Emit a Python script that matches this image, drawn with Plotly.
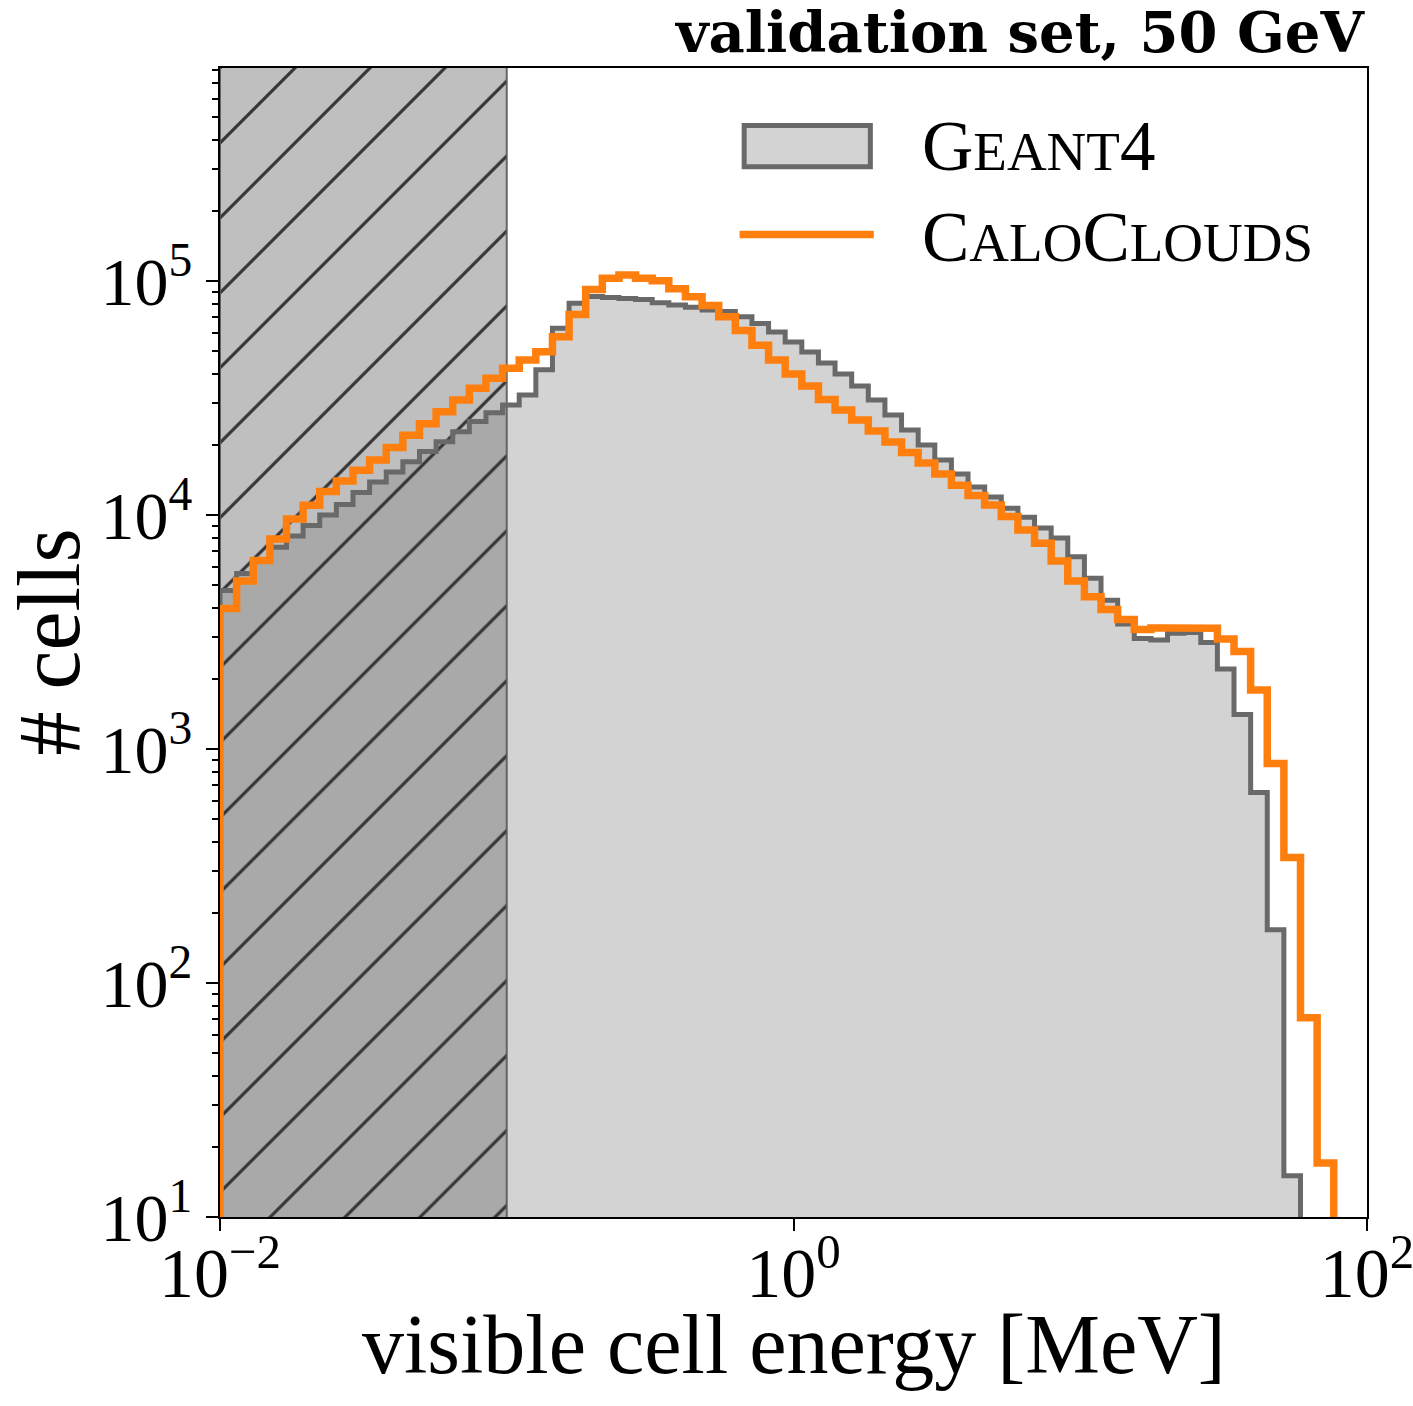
import numpy as np
import plotly.graph_objects as go

# ---------------- data ----------------
# 69 logarithmic bins between 1e-2 and 1e2 MeV
BIN_EXP_MIN, BIN_EXP_MAX, N_EDGES = -2, 2, 70
edges = np.logspace(BIN_EXP_MIN, BIN_EXP_MAX, N_EDGES)

geant4_counts = [4750, 5620, 6360, 7270, 8130, 9020, 10000, 11090, 12480, 13840,
                 15270, 16900, 18660, 20570, 22700, 25060, 27370, 29510, 32580, 41690,
                 62800, 80300, 85900, 85000, 84150, 83340, 80760, 78960, 77200, 75200,
                 73960, 70370, 65800, 60530, 54840, 49750, 44640, 40060, 35580, 30990,
                 26740, 23070, 19910, 17180, 14970, 13180, 11940, 10680, 9780, 8800,
                 7970, 6635, 5360, 4320, 3420, 2966, 2923, 3120, 3148, 2852,
                 2198, 1404, 652, 169, 15, 0, 0, 0, 0]

caloclouds_counts = [3985, 5224, 6395, 7890, 9610, 10990, 12590, 13970, 15520, 17180,
                     19420, 21920, 24550, 27620, 30990, 34780, 38370, 42360, 45940, 49880,
                     57810, 71910, 92000, 102700, 106100, 102700, 100300, 92650, 85700, 78540,
                     70370, 61450, 53110, 45940, 40060, 35580, 31180, 28110, 25470, 22850,
                     20510, 18490, 16680, 14970, 13400, 12110, 11030, 9840, 8630, 7570,
                     6360, 5224, 4475, 3945, 3575, 3243, 3290, 3290, 3290, 3280,
                     2952, 2610, 1787, 867, 344, 71, 17, 0, 0]

# masked (hatched) energy region in MeV
mask_region = [1e-2, 1e-1]

x_tickvals = [1e-2, 1e0, 1e2]
x_ticktext = ["10<sup>−2</sup>", "10<sup>0</sup>", "10<sup>2</sup>"]
y_tickvals = [1e1, 1e2, 1e3, 1e4, 1e5]
y_ticktext = ["10<sup>1</sup>", "10<sup>2</sup>", "10<sup>3</sup>", "10<sup>4</sup>", "10<sup>5</sup>"]

title_text = "<b>validation set, 50 GeV</b>"
xlabel = "visible cell energy [MeV]"
ylabel = "# cells"

# ---------------- helpers ----------------
FLOOR = 1.0  # below the visible y range (log axis)


def step_xy(edg, counts):
    c = np.array(counts, dtype=float)
    c[c <= 0] = FLOOR
    x = np.repeat(edg, 2)
    y = np.concatenate([[FLOOR], np.repeat(c, 2), [FLOOR]])
    return x, y


gx, gy = step_xy(edges, geant4_counts)
cx, cy = step_xy(edges, caloclouds_counts)

FONT = "Liberation Serif"
TITLE_FONT = "DejaVu Serif"
GRAY_FILL = "#d3d3d3"
GRAY_LINE = "#696969"
ORANGE = "#ff7f0e"

fig = go.Figure()

# Geant4 filled area
fig.add_trace(go.Scatter(x=gx, y=gy, mode="lines", fill="toself",
                         fillcolor=GRAY_FILL, line=dict(width=0, color=GRAY_FILL),
                         hoverinfo="skip", showlegend=False))

# hatched mask region
mx = [mask_region[0], mask_region[1], mask_region[1], mask_region[0], mask_region[0]]
my = [FLOOR, FLOOR, 1e8, 1e8, FLOOR]
fig.add_trace(go.Scatter(x=mx, y=my, mode="lines", fill="toself",
                         fillcolor="rgba(128,128,128,0.5)",
                         fillpattern=dict(shape="/", fgcolor="#363636", fgopacity=1.0,
                                          size=53, solidity=0.06, fillmode="overlay"),
                         line=dict(width=2, color="rgba(90,90,90,0.9)"),
                         hoverinfo="skip", showlegend=False))

# Geant4 step outline
fig.add_trace(go.Scatter(x=gx, y=gy, mode="lines",
                         line=dict(width=5, color=GRAY_LINE),
                         hoverinfo="skip", showlegend=False))

# CaloClouds step line
fig.add_trace(go.Scatter(x=cx, y=cy, mode="lines",
                         line=dict(width=7.5, color=ORANGE),
                         hoverinfo="skip", showlegend=False))

# ---------------- manual legend ----------------
fig.add_shape(type="rect", xref="paper", yref="paper",
              x0=0.457, x1=0.567, y0=0.914, y1=0.950,
              fillcolor=GRAY_FILL, line=dict(color=GRAY_LINE, width=5))
fig.add_shape(type="line", xref="paper", yref="paper",
              x0=0.453, x1=0.570, y0=0.855, y1=0.855,
              line=dict(color=ORANGE, width=7.5))
SC = 55
BIG = 71
fig.add_annotation(xref="paper", yref="paper", x=0.610, y=0.932, xanchor="left", yanchor="middle",
                   text=f"G<span style='font-size:{SC}px'>EANT</span>4", showarrow=False,
                   font=dict(family=FONT, size=BIG, color="black"))
fig.add_annotation(xref="paper", yref="paper", x=0.610, y=0.853, xanchor="left", yanchor="middle",
                   text=f"C<span style='font-size:{SC}px'>ALO</span>C<span style='font-size:{SC}px'>LOUDS</span>",
                   showarrow=False, font=dict(family=FONT, size=BIG, color="black"))

# title (top right)
fig.add_annotation(xref="paper", yref="paper", x=1.0, y=1.0, xanchor="right", yanchor="bottom",
                   yshift=1, text=title_text, showarrow=False,
                   font=dict(family=TITLE_FONT, size=56, color="black"))

# axis titles
fig.add_annotation(xref="paper", yref="paper", x=0.5, y=-0.111, xanchor="center", yanchor="middle",
                   text=xlabel, showarrow=False, font=dict(family=FONT, size=84, color="black"))
fig.add_annotation(xref="paper", yref="paper", x=-0.149, y=0.5, xanchor="center", yanchor="middle",
                   text=ylabel, textangle=-90, showarrow=False,
                   font=dict(family=FONT, size=88, color="black"))

fig.update_layout(
    width=1413, height=1406,
    margin=dict(l=220, r=46, t=68, b=189, autoexpand=False),
    plot_bgcolor="white", paper_bgcolor="white",
    font=dict(family=FONT, color="black"),
    showlegend=False,
)

fig.update_xaxes(type="log", range=[-2, 2], showgrid=False, zeroline=False, automargin=False,
                 showline=True, linecolor="black", linewidth=2, mirror=True,
                 ticks="outside", ticklen=12, tickwidth=2, tickcolor="black",
                 tickmode="array", tickvals=x_tickvals, ticktext=x_ticktext,
                 ticklabeloverflow="allow", ticklabelstandoff=-18,
                 tickfont=dict(family=FONT, size=70))

fig.update_yaxes(type="log", range=[1, 5.91], showgrid=False, zeroline=False, automargin=False,
                 showline=True, linecolor="black", linewidth=2, mirror=True,
                 ticks="outside", ticklen=12, tickwidth=2, tickcolor="black",
                 tickmode="array", tickvals=y_tickvals, ticktext=y_ticktext,
                 tickfont=dict(family=FONT, size=68),
                 minor=dict(ticks="outside", ticklen=6, tickwidth=1.5, tickcolor="black",
                            dtick="D1", showgrid=False))

fig.write_html("out.html")
